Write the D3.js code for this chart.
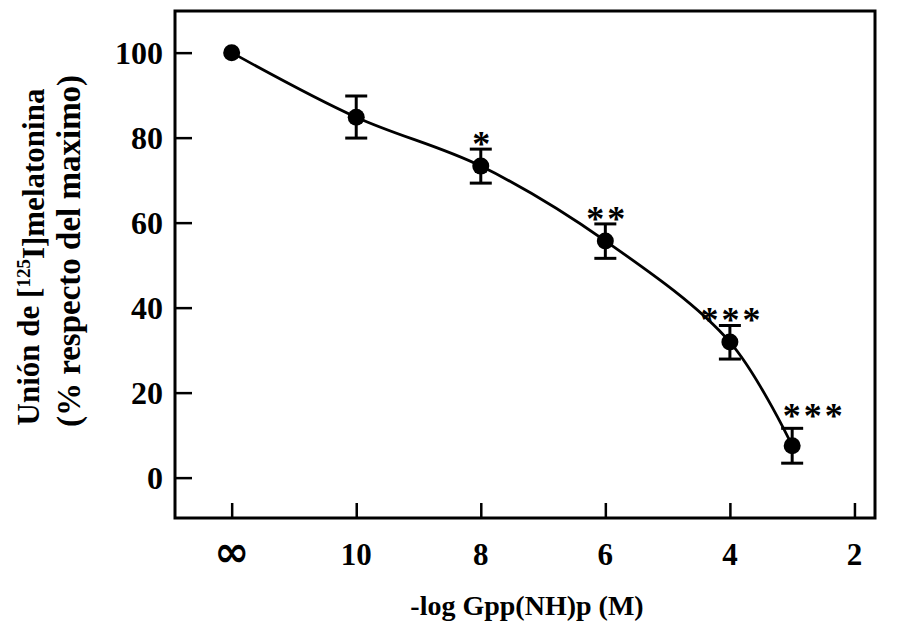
<!DOCTYPE html>
<html>
<head>
<meta charset="utf-8">
<script src="https://cdn.jsdelivr.net/npm/d3@7"></script>
<style>
body { margin: 0; background: #fff; }
text { font-family: "Liberation Serif", "Times New Roman", serif; font-weight: bold; fill: #000; }
</style>
</head>
<body>
<div id="chart"></div>
<script>
// -log concentration; 12 stands for the "infinity" (no Gpp(NH)p) point
var logConc = [12, 10, 8, 6, 4, 3];
var binding = [100, 84.8, 73.3, 55.7, 31.9, 7.5];
var errHigh = [null, 89.8, 77.3, 59.7, 35.8, 11.6];
var errLow = [null, 79.9, 69.3, 51.6, 27.9, 3.4];
var stars = ["", "", "*", "**", "***", "***"];
var xTicks = [12, 10, 8, 6, 4, 2];
var xTickLabels = ["\u221e", "10", "8", "6", "4", "2"];
var yTicks = [0, 20, 40, 60, 80, 100];

var width = 903, height = 630;
var mLeft = 175, mRight = 875, mTop = 11, mBottom = 518;

var x = d3.scaleLinear().domain([12.91, 1.67]).range([mLeft, mRight]);
var y = d3.scaleLinear().domain([-9.5, 109.8]).range([mBottom, mTop]);

var svg = d3.select("#chart").append("svg")
    .attr("width", width)
    .attr("height", height);

var data = logConc.map(function(d, i) {
    return {x: d, y: binding[i], hi: errHigh[i], lo: errLow[i], s: stars[i]};
});

// y axis, ticks inside
var yAxis = svg.append("g")
    .attr("transform", "translate(" + mLeft + ",0)")
    .call(d3.axisRight(y).tickValues(yTicks).tickSize(17).tickFormat(""));
yAxis.select(".domain").remove();
yAxis.selectAll("line").attr("stroke-width", 2.5);
svg.selectAll(".ylab").data(yTicks).enter().append("text")
    .attr("class", "ylab")
    .attr("x", mLeft - 12)
    .attr("y", function(d) { return y(d); })
    .attr("dy", "0.35em")
    .attr("text-anchor", "end")
    .style("font-size", "32px")
    .text(function(d) { return d; });

// x axis, ticks inside
var xAxis = svg.append("g")
    .attr("transform", "translate(0," + mBottom + ")")
    .call(d3.axisTop(x).tickValues(xTicks).tickSize(15).tickFormat(""));
xAxis.select(".domain").remove();
xAxis.selectAll("line").attr("stroke-width", 2.5);
svg.selectAll(".xlab").data(xTicks).enter().append("text")
    .attr("class", "xlab")
    .attr("x", function(d) { return x(d); })
    .attr("y", function(d, i) { return i === 0 ? 551 : 554; })
    .attr("dy", "0.35em")
    .attr("text-anchor", "middle")
    .style("font-size", function(d, i) { return i === 0 ? "42px" : "31px"; })
    .style("font-family", function(d, i) { return i === 0 ? "'DejaVu Sans'" : null; })
    .text(function(d, i) { return xTickLabels[i]; });

// frame
svg.append("rect")
    .attr("x", mLeft).attr("y", mTop)
    .attr("width", mRight - mLeft).attr("height", mBottom - mTop)
    .attr("fill", "none").attr("stroke", "#000").attr("stroke-width", 3);

// curve
var line = d3.line()
    .curve(d3.curveCatmullRom.alpha(0.5))
    .x(function(d) { return x(d.x); })
    .y(function(d) { return y(d.y); });
svg.append("path")
    .datum(data)
    .attr("d", line)
    .attr("fill", "none")
    .attr("stroke", "#000")
    .attr("stroke-width", 2.8);

// error bars
var eb = svg.selectAll(".eb").data(data.filter(function(d) { return d.hi !== null; }))
    .enter().append("g").attr("class", "eb");
eb.append("line")
    .attr("x1", function(d) { return x(d.x); }).attr("x2", function(d) { return x(d.x); })
    .attr("y1", function(d) { return y(d.hi); }).attr("y2", function(d) { return y(d.lo); })
    .attr("stroke", "#000").attr("stroke-width", 3);
eb.append("line")
    .attr("x1", function(d) { return x(d.x) - 11; }).attr("x2", function(d) { return x(d.x) + 11; })
    .attr("y1", function(d) { return y(d.hi); }).attr("y2", function(d) { return y(d.hi); })
    .attr("stroke", "#000").attr("stroke-width", 3);
eb.append("line")
    .attr("x1", function(d) { return x(d.x) - 11; }).attr("x2", function(d) { return x(d.x) + 11; })
    .attr("y1", function(d) { return y(d.lo); }).attr("y2", function(d) { return y(d.lo); })
    .attr("stroke", "#000").attr("stroke-width", 3);

// points
svg.selectAll(".pt").data(data).enter().append("circle")
    .attr("cx", function(d) { return x(d.x); })
    .attr("cy", function(d) { return y(d.y); })
    .attr("r", 8.5)
    .attr("fill", "#000");

// significance stars
svg.selectAll(".star").data(data.filter(function(d) { return d.s; })).enter().append("text")
    .attr("x", function(d) { return x(d.x) + (d.x === 3 ? 22 : 2); })
    .attr("y", function(d) { return y(d.hi) + (d.x === 3 ? 0 : 7); })
    .attr("text-anchor", "middle")
    .style("font-size", "36px")
    .style("letter-spacing", "3px")
    .text(function(d) { return d.s; });

// x title
svg.append("text")
    .attr("x", 527)
    .attr("y", 605)
    .attr("dy", "0.35em")
    .attr("text-anchor", "middle")
    .style("font-size", "28px")
    .text("-log Gpp(NH)p (M)");

// y title, two lines
var yt = svg.append("text")
    .attr("transform", "translate(39,257) rotate(-90)")
    .attr("text-anchor", "middle")
    .style("font-size", "31px");
yt.append("tspan").text("Unión de [");
yt.append("tspan").attr("dy", "-0.45em").style("font-size", "19px").text("125");
yt.append("tspan").attr("dy", "0.45em").text("I]melatonina");
svg.append("text")
    .attr("transform", "translate(80,251) rotate(-90)")
    .attr("text-anchor", "middle")
    .style("font-size", "33px")
    .text("(% respecto del maximo)");
</script>
</body>
</html>
